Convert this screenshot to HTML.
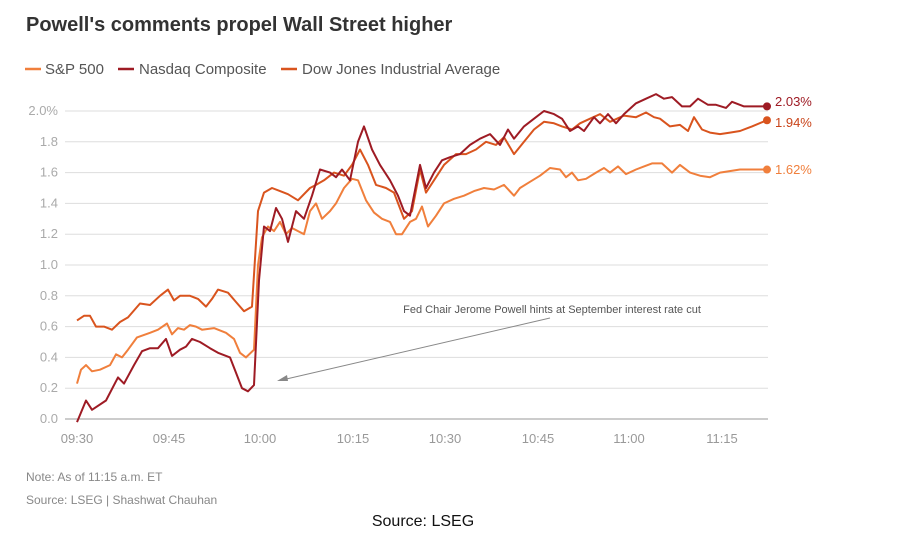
<!DOCTYPE html>
<html><head><meta charset="utf-8"><style>
body{margin:0;background:#fff;width:906px;height:550px;overflow:hidden;font-family:"Liberation Sans",sans-serif}
</style></head><body>
<svg id="s" width="906" height="550" xmlns="http://www.w3.org/2000/svg" font-family="Liberation Sans, sans-serif">
<text x="26" y="31" font-size="20" font-weight="bold" fill="#333">Powell's comments propel Wall Street higher</text>
<g font-size="15" fill="#555">
<line x1="25" y1="69" x2="41" y2="69" stroke="#f07f3c" stroke-width="2.5"/><text x="45" y="74">S&amp;P 500</text>
<line x1="118" y1="69" x2="134" y2="69" stroke="#9e1b24" stroke-width="2.5"/><text x="139" y="74">Nasdaq Composite</text>
<line x1="281" y1="69" x2="297" y2="69" stroke="#d9541e" stroke-width="2.5"/><text x="302" y="74">Dow Jones Industrial Average</text>
</g>
<g id="grid" stroke="#ddd" stroke-width="1"></g>
<g id="yl" font-size="13" fill="#aaa" text-anchor="end"></g>
<g font-size="13" fill="#999" text-anchor="middle">
<text x="77" y="443">09:30</text><text x="169" y="443">09:45</text><text x="260" y="443">10:00</text><text x="353" y="443">10:15</text><text x="445" y="443">10:30</text><text x="538" y="443">10:45</text><text x="629" y="443">11:00</text><text x="722" y="443">11:15</text>
</g>
<g id="lines" fill="none" stroke-width="2" stroke-linejoin="round"></g>
<text x="552" y="313" font-size="11" fill="#555" text-anchor="middle">Fed Chair Jerome Powell hints at September interest rate cut</text>
<line x1="550" y1="318" x2="282" y2="380" stroke="#888" stroke-width="1"/>
<polygon points="277,381 287,375 288,381" fill="#888"/>
<g font-size="13">
<text x="775" y="106" fill="#9e1b24">2.03%</text>
<text x="775" y="127" fill="#c9441a">1.94%</text>
<text x="775" y="174" fill="#f07f3c">1.62%</text>
</g>
<text x="26" y="481" font-size="12" fill="#888">Note: As of 11:15 a.m. ET</text>
<text x="26" y="504" font-size="12" fill="#888">Source: LSEG | Shashwat Chauhan</text>
<text x="423" y="526" font-size="16" fill="#111" text-anchor="middle">Source: LSEG</text>
</svg>
<script>
var NS="http://www.w3.org/2000/svg";
function Y(v){return 419-v*154;}
var g=document.getElementById('grid'),yl=document.getElementById('yl');
for(var i=0;i<=10;i++){var v=i*0.2,y=Y(v);
var l=document.createElementNS(NS,'line');l.setAttribute('x1',65);l.setAttribute('x2',768);l.setAttribute('y1',y);l.setAttribute('y2',y);
if(i==0){l.setAttribute('stroke','#999');}g.appendChild(l);
var t=document.createElementNS(NS,'text');t.setAttribute('x',58);t.setAttribute('y',y+4);t.textContent=v.toFixed(1)+(i==10?'%':'');yl.appendChild(t);}
var sp=[77,.23,81,.32,86,.35,92,.31,100,.32,110,.35,116,.42,122,.40,128,.45,137,.53,150,.56,158,.58,167,.62,172,.55,178,.59,184,.58,190,.61,196,.60,202,.58,214,.59,226,.56,234,.52,240,.43,246,.40,254,.45,258,1.0,262,1.18,268,1.25,274,1.22,280,1.28,286,1.20,292,1.24,298,1.22,304,1.20,310,1.35,316,1.40,322,1.30,330,1.35,336,1.40,344,1.50,352,1.56,358,1.55,366,1.42,374,1.34,382,1.30,390,1.28,396,1.20,402,1.20,410,1.28,416,1.30,422,1.38,428,1.25,436,1.32,444,1.40,454,1.43,464,1.45,474,1.48,484,1.50,494,1.49,504,1.52,514,1.45,520,1.50,530,1.54,540,1.58,550,1.63,560,1.62,566,1.57,572,1.60,578,1.55,586,1.56,596,1.60,604,1.63,610,1.60,618,1.64,626,1.59,636,1.62,644,1.64,652,1.66,662,1.66,672,1.60,680,1.65,690,1.60,700,1.58,710,1.57,720,1.60,740,1.62,767,1.62];
var nq=[77,-.02,86,.12,92,.06,106,.12,118,.27,124,.23,134,.35,142,.44,150,.46,158,.46,166,.52,172,.41,180,.45,186,.47,192,.52,200,.50,210,.46,218,.43,230,.40,236,.30,242,.20,248,.18,254,.22,259,.90,264,1.25,270,1.22,276,1.37,282,1.30,288,1.15,296,1.35,304,1.30,312,1.45,320,1.62,330,1.60,336,1.57,342,1.62,350,1.55,358,1.80,364,1.90,372,1.75,380,1.65,390,1.55,398,1.45,404,1.35,410,1.32,420,1.65,426,1.50,434,1.60,442,1.68,450,1.70,460,1.72,470,1.78,480,1.82,490,1.85,500,1.78,508,1.88,514,1.82,524,1.90,534,1.95,544,2.00,554,1.98,562,1.95,570,1.87,578,1.90,584,1.87,594,1.96,600,1.92,608,1.98,616,1.92,624,1.98,636,2.05,646,2.08,656,2.11,664,2.08,672,2.09,682,2.03,690,2.03,698,2.08,708,2.04,716,2.04,726,2.02,732,2.06,744,2.03,767,2.03];
var dj=[77,.64,84,.67,90,.67,96,.60,104,.60,112,.58,120,.63,128,.66,140,.75,150,.74,160,.80,168,.84,174,.77,180,.80,190,.80,198,.78,206,.73,212,.78,218,.84,228,.82,236,.76,244,.70,252,.73,258,1.35,264,1.47,272,1.50,280,1.48,288,1.46,298,1.42,310,1.50,316,1.52,324,1.55,334,1.60,344,1.58,352,1.65,360,1.75,368,1.65,376,1.52,386,1.50,394,1.47,404,1.30,412,1.35,420,1.62,426,1.47,434,1.55,444,1.65,456,1.72,466,1.72,476,1.75,486,1.80,496,1.78,504,1.83,514,1.72,524,1.80,534,1.88,544,1.93,554,1.92,562,1.90,572,1.88,580,1.92,590,1.95,600,1.98,610,1.93,624,1.97,636,1.96,646,1.99,654,1.96,660,1.95,670,1.90,680,1.91,688,1.87,694,1.96,702,1.88,710,1.86,720,1.85,730,1.86,740,1.87,752,1.90,767,1.94];
var L=document.getElementById('lines');
[[sp,'#f07f3c'],[dj,'#d9541e'],[nq,'#9e1b24']].forEach(function(s){
var a=s[0],p=[];for(var i=0;i<a.length;i+=2)p.push(a[i]+','+Y(a[i+1]).toFixed(1));
var e=document.createElementNS(NS,'polyline');e.setAttribute('points',p.join(' '));e.setAttribute('stroke',s[1]);L.appendChild(e);
var c=document.createElementNS(NS,'circle');c.setAttribute('cx',767);c.setAttribute('cy',Y(a[a.length-1]));c.setAttribute('r',4);c.setAttribute('fill',s[1]);L.appendChild(c);});
</script>
</body></html>
